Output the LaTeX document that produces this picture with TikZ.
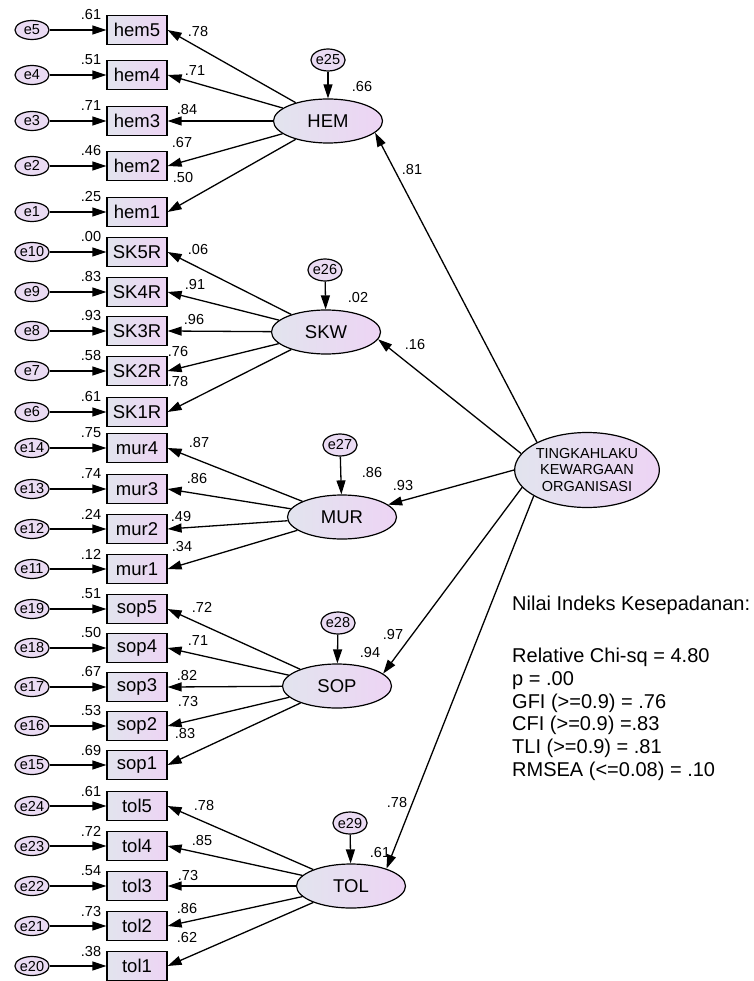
\documentclass[tikz,border=0pt]{standalone}
\usepackage{fontspec}
\setmainfont{Liberation Sans}
\usetikzlibrary{arrows.meta,shapes.geometric}
\definecolor{lilacL}{RGB}{226,228,238}
\definecolor{lilacR}{RGB}{237,212,244}
\definecolor{errfill}{RGB}{234,219,243}
\def\obsrow(#1:#2:#3:#4){\node[errnode] (#3) at (32,#2) {#3};
	\node[obsbox] (#1) at (137,#2) {#1};
	\draw[arr] (#3) -- (#1);
	\node[est] at (91,#2-15) {#4};}
\def\loadarrow(#1:#2:#3:#4){\draw[arr] (#1) -- (#2.east);
	\node[est] at (#3) {#4};}

\begin{document}
\begin{tikzpicture}[x=1pt,y=-1pt,
	arr/.style={-{Triangle[length=14pt,width=9pt]},line width=1.3pt},
	errnode/.style={ellipse,draw,line width=1.2pt,fill=errfill,inner sep=0pt,minimum width=34pt,minimum height=19pt,font=\fontsize{14.5}{16}\selectfont},
	lerr/.style={errnode,minimum width=32pt,minimum height=22pt},
	obsbox/.style={rectangle,draw,line width=1.2pt,left color=lilacL,right color=lilacR,inner sep=0pt,minimum width=60pt,minimum height=29pt,font=\fontsize{18.5}{20}\selectfont},
	latent/.style={ellipse,draw,line width=1.2pt,left color=lilacL,right color=lilacR,inner sep=0pt,minimum width=109pt,minimum height=44pt,font=\fontsize{18.5}{20}\selectfont},
	rootnode/.style={latent,minimum width=135pt,minimum height=75pt,align=center,font=\fontsize{14.5}{16.5}\selectfont},
	est/.style={inner sep=0pt,font=\fontsize{14.5}{16}\selectfont}]
	%%%%% START %%%%%
	
	\fill[white] (0,0) rectangle (753,981);
	\useasboundingbox (0,0) rectangle (753,981);
	
	%%%%% indicators %%%%%
	\obsrow(hem5:30:e5:.61)
	\obsrow(hem4:75:e4:.51)
	\obsrow(hem3:121:e3:.71)
	\obsrow(hem2:166:e2:.46)
	\obsrow(hem1:212:e1:.25)
	
	\obsrow(SK5R:252:e10:.00)
	\obsrow(SK4R:292:e9:.83)
	\obsrow(SK3R:331:e8:.93)
	\obsrow(SK2R:371:e7:.58)
	\obsrow(SK1R:412:e6:.61)
	
	\obsrow(mur4:448:e14:.75)
	\obsrow(mur3:489:e13:.74)
	\obsrow(mur2:529:e12:.24)
	\obsrow(mur1:569:e11:.12)
	
	\obsrow(sop5:609:e19:.51)
	\obsrow(sop4:648:e18:.50)
	\obsrow(sop3:687:e17:.67)
	\obsrow(sop2:726:e16:.53)
	\obsrow(sop1:765:e15:.69)
	
	\obsrow(tol5:806:e24:.61)
	\obsrow(tol4:846:e23:.72)
	\obsrow(tol3:886:e22:.54)
	\obsrow(tol2:926:e21:.73)
	\obsrow(tol1:966:e20:.38)
	
	%%%%% first order factors %%%%%
	\node[latent] (hem) at (328,121) {HEM};
	\node[lerr] (e25) at (328,60) {e25};
	\draw[arr] (e25) -- (hem);
	\node[est] at (362,87) {.66};
	
	\node[latent] (skw) at (326,332) {SKW};
	\node[lerr] (e26) at (325,270) {e26};
	\draw[arr] (e26) -- (skw);
	\node[est] at (358,298) {.02};
	
	\node[latent] (mur) at (342,517) {MUR};
	\node[lerr] (e27) at (340,445) {e27};
	\draw[arr] (e27) -- (mur);
	\node[est] at (372,473) {.86};
	
	\node[latent] (sop) at (337,686) {SOP};
	\node[lerr] (e28) at (338,623) {e28};
	\draw[arr] (e28) -- (sop);
	\node[est] at (370,653) {.94};
	
	\node[latent] (tol) at (351,886) {TOL};
	\node[lerr] (e29) at (350,823) {e29};
	\draw[arr] (e29) -- (tol);
	\node[est] at (380,852) {.61};
	
	%%%%% loadings %%%%%
	\loadarrow(hem:hem5:198,32:.78)
	\loadarrow(hem:hem4:195,71:.71)
	\loadarrow(hem:hem3:187,110:.84)
	\loadarrow(hem:hem2:182,143:.67)
	\loadarrow(hem:hem1:183,178:.50)
	
	\loadarrow(skw:SK5R:198,250:.06)
	\loadarrow(skw:SK4R:195,285:.91)
	\loadarrow(skw:SK3R:194,320:.96)
	\loadarrow(skw:SK2R:178,352:.76)
	\loadarrow(skw:SK1R:178,382:.78)
	
	\loadarrow(mur:mur4:199,443:.87)
	\loadarrow(mur:mur3:197,479:.86)
	\loadarrow(mur:mur2:181,517:.49)
	\loadarrow(mur:mur1:182,547:.34)
	
	\loadarrow(sop:sop5:202,607:.72)
	\loadarrow(sop:sop4:198,641:.71)
	\loadarrow(sop:sop3:187,676:.82)
	\loadarrow(sop:sop2:188,702:.73)
	\loadarrow(sop:sop1:185,734:.83)
	
	\loadarrow(tol:tol5:204,805:.78)
	\loadarrow(tol:tol4:202,840:.85)
	\loadarrow(tol:tol3:188,875:.73)
	\loadarrow(tol:tol2:187,908:.86)
	\loadarrow(tol:tol1:187,937:.62)
	
	%%%%% second order factor %%%%%
	\node[rootnode] (tko) at (587,470) {TINGKAHLAKU\\KEWARGAAN\\ORGANISASI};
	
	\draw[arr] (tko.151) -- (hem.-14);
	\node[est] at (412,170) {.81};
	\draw[arr] (tko.166) -- (skw.-8);
	\node[est] at (415,345) {.16};
	\draw[arr] (tko.180) -- (mur.15);
	\node[est] at (403,486) {.93};
	\draw[arr] (tko.-165) -- (sop.15);
	\node[est] at (393,635) {.97};
	\draw[arr] (tko.-154) -- (tol.26);
	\node[est] at (397,802) {.78};
	
	%%%%% fit indices %%%%%
	\node[anchor=north west,inner sep=0pt,align=left,font=\fontsize{20}{22.8}\selectfont] (fit) at (512,595.5)
		{Nilai Indeks Kesepadanan:\\[29.5pt]
		Relative Chi-sq = 4.80\\
		p = .00\\
		GFI (>=0.9) = .76\\
		CFI (>=0.9) =.83\\
		TLI (>=0.9) = .81\\
		RMSEA (<=0.08) = .10};
	
	%%%%% END %%%%%
\end{tikzpicture}
\end{document}
